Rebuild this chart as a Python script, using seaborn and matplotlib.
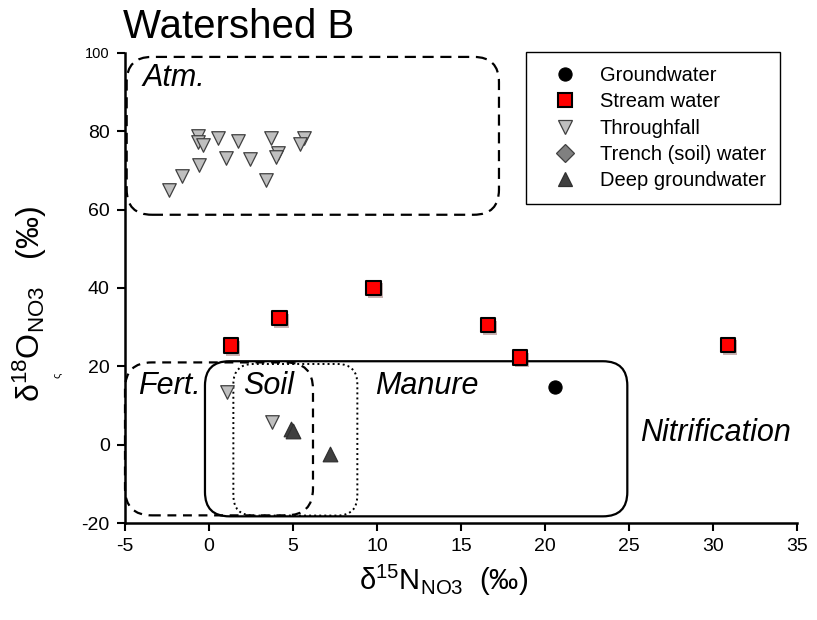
import matplotlib
matplotlib.use('Agg')
import matplotlib.pyplot as plt
import matplotlib.patheffects as pe
from matplotlib.patches import FancyBboxPatch
from matplotlib.lines import Line2D
import seaborn as sns
import pandas as pd

# ---------------- data ----------------
gw_x = [20.6]
gw_y = [14.8]
stream_x = [1.3, 4.2, 9.8, 16.6, 18.5, 30.9]
stream_y = [25.3, 32.3, 40.0, 30.5, 22.3, 25.5]
tf_x = [-0.64, -0.68, -0.38, 0.52, 1.74, 3.67, 5.67, 5.42, 1.01, 2.44,
        4.13, 3.99, -0.58, -1.63, -2.36, 3.39, 1.05, 3.77]
tf_y = [78.9, 77.2, 76.6, 78.3, 77.6, 78.3, 78.3, 76.8, 73.2, 73.0,
        74.5, 73.4, 71.3, 68.7, 65.1, 67.7, 13.4, 5.7]
trench_x = []
trench_y = []
deep_x = [4.9, 5.0, 7.2]
deep_y = [3.9, 3.5, -2.4]

series_names = ["Groundwater", "Stream water", "Throughfall",
                "Trench (soil) water", "Deep groundwater"]
x_ticks = [-5, 0, 5, 10, 15, 20, 25, 30, 35]
y_ticks = [-20, 0, 20, 40, 60, 80, 100]

# source-region boxes (x0, y0, x1, y1) and labels
atm_box = (-4.9, 58.7, 17.26, 99.0)
fert_box = (-5.0, -18.05, 6.19, 21.0)
nitr_box = (-0.24, -18.3, 24.9, 21.3)
manure_box = (1.45, -18.1, 8.83, 20.6)
region_labels = ["Atm.", "Fert.", "Soil", "Manure", "Nitrification"]
label_x = [-3.93, -4.2, 2.02, 9.88, 25.65]
label_y = [93.6, 15.0, 15.0, 15.1, 3.0]

# ---------------- style ----------------
sns.set_style("white")
plt.rcParams['font.family'] = ['Liberation Sans', 'DejaVu Sans']
plt.rcParams['mathtext.fontset'] = 'custom'
plt.rcParams['mathtext.rm'] = 'Liberation Sans'
plt.rcParams['mathtext.it'] = 'Liberation Sans:italic'
for k in ['text.color', 'axes.labelcolor', 'xtick.color', 'ytick.color']:
    plt.rcParams[k] = 'black'

fig = plt.figure(figsize=(8.17, 6.2), dpi=100)
ax = fig.add_axes([125/817, 1-523/620, (797-125)/817, (523-53)/620])

def df(x, y):
    return pd.DataFrame({"x": x, "y": y})

styles = {
    "Groundwater": dict(marker="o", color="black", edgecolor="black", linewidth=0.8, s=90),
    "Stream water": dict(marker="s", color="#FF0000", edgecolor="black", linewidth=1.5, s=110),
    "Throughfall": dict(marker="v", color="#BFBFBF", edgecolor="#404040", linewidth=0.9, s=95),
    "Trench (soil) water": dict(marker="D", color="#808080", edgecolor="#404040", linewidth=0.9, s=80),
    "Deep groundwater": dict(marker="^", color="#404040", edgecolor="#303030", linewidth=0.9, s=110),
}
data_sets = [(gw_x, gw_y), (stream_x, stream_y), (tf_x, tf_y),
             (trench_x, trench_y), (deep_x, deep_y)]

shadow = [pe.SimplePatchShadow(offset=(1.5, -2), alpha=0.3), pe.Normal()]
handles = []
for name, (xs, ys) in zip(series_names, data_sets):
    st = styles[name]
    if len(xs):
        n0 = len(ax.collections)
        sns.scatterplot(data=df(xs, ys), x="x", y="y", ax=ax, zorder=5, legend=False, **st)
        if name == "Stream water":
            ax.collections[n0].set_path_effects(shadow)
    handles.append(Line2D([], [], linestyle="none", marker=st["marker"],
                          markerfacecolor=st["color"], markeredgecolor=st["edgecolor"],
                          markeredgewidth=st["linewidth"], markersize=st["s"] ** 0.5,
                          label=name))

# region boxes
asp = (1/3.917) / (1/16.8)
def rbox(b, ls, lw, r):
    x0, y0, x1, y1 = b
    p = FancyBboxPatch((x0, y0), x1-x0, y1-y0,
                       boxstyle=f"round,pad=0,rounding_size={r}",
                       mutation_aspect=asp, fill=False, edgecolor="black",
                       linestyle=ls, linewidth=lw, clip_on=False, zorder=3)
    ax.add_patch(p)

rbox(atm_box, (0, (5, 3)), 1.6, 1.5)
rbox(fert_box, (0, (4, 3)), 1.6, 1.6)
rbox(nitr_box, "-", 1.6, 1.45)
rbox(manure_box, (0, (1, 1.6)), 1.4, 1.2)

for t, lx, ly in zip(region_labels, label_x, label_y):
    ax.text(lx, ly, t, fontsize=22, style="italic", ha="left", va="center", zorder=6)

# axes
ax.set_xlim(-5, 35)
ax.set_ylim(-20, 100)
ax.set_xticks(x_ticks)
ax.set_yticks(y_ticks)
ax.set_xticklabels([str(v) for v in x_ticks])
ax.set_yticklabels([str(v) for v in y_ticks])
for lab in ax.get_yticklabels():
    lab.set_fontsize(14)
    if lab.get_text() == "100":
        lab.set_fontsize(10.5)
for lab in ax.get_xticklabels():
    lab.set_fontsize(14)
ax.tick_params(axis="both", direction="out", length=6, width=1.5, color="black",
               bottom=True, left=True, pad=5)
for s in ["top", "right"]:
    ax.spines[s].set_visible(False)
for s in ["left", "bottom"]:
    ax.spines[s].set_color("black")
    ax.spines[s].set_linewidth(1.8)
ax.set_xlabel("")
ax.set_ylabel("")
ax.set_facecolor("white")

fig.text(444/817, 1-580/620, r"δ$^{15}$N$_{\rm NO3}$  (‰)", fontsize=21,
         ha="center", va="center")
fig.text(30/817, 1-304/620, r"δ$^{18}$O$_{\rm NO3}$   (‰)", fontsize=23,
         ha="center", va="center", rotation=90)
fig.text(57/817, 1-375/620, "ς", fontsize=8, ha="center", va="center", rotation=90)
fig.text(123/817, 1-38/620, "Watershed B", fontsize=29, ha="left", va="baseline")

leg = ax.legend(handles=handles, loc="upper right", bbox_to_anchor=(780/817, 1-52/620),
                bbox_transform=fig.transFigure, borderaxespad=0, fontsize=14.5,
                frameon=True, fancybox=False, edgecolor="black", framealpha=1,
                borderpad=0.7, handlelength=2.5, handletextpad=0.45,
                labelspacing=0.36)
leg.get_frame().set_linewidth(1.0)

fig.savefig("out.png", dpi=100, facecolor="white")
